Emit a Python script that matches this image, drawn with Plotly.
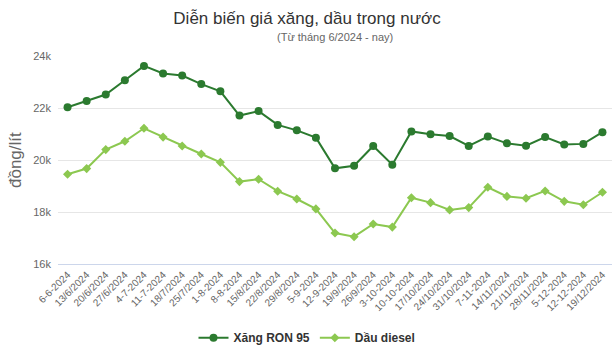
import plotly.graph_objects as go

# Weekly price-adjustment dates
dates = [
    "6-6-2024", "13/6/2024", "20/6/2024", "27/6/2024", "4-7-2024", "11-7-2024",
    "18/7/2024", "25/7/2024", "1-8-2024", "8-8-2024", "15/8/2024", "22/8/2024",
    "29/8/2024", "5-9-2024", "12-9-2024", "19/9/2024", "26/9/2024", "3-10-2024",
    "10-10-2024", "17/10/2024", "24/10/2024", "31/10/2024", "7-11-2024",
    "14/11/2024", "21/11/2024", "28/11/2024", "5-12-2024", "12-12-2024", "19/12/2024",
]

# Retail prices, VND per litre
ron95 = [
    22030, 22270, 22520, 23070, 23620, 23330, 23250, 22920, 22640, 21710,
    21880, 21350, 21140, 20860, 19680, 19780, 20540, 19820, 21100, 20990,
    20920, 20540, 20900, 20640, 20550, 20880, 20600, 20620, 21070,
]
diesel = [
    19450, 19670, 20400, 20720, 21220, 20880, 20540, 20230, 19910, 19170,
    19260, 18800, 18500, 18120, 17190, 17050, 17540, 17420, 18550, 18360,
    18080, 18170, 18950, 18600, 18530, 18810, 18410, 18280, 18760,
]

y_ticks = [16000, 18000, 20000, 22000, 24000]
y_tick_labels = ["16k", "18k", "20k", "22k", "24k"]

FONT = "Liberation Sans, Arial, sans-serif"
RON_COLOR = "#2b7a2f"
DIESEL_COLOR = "#8cc850"

fig = go.Figure()
fig.add_trace(go.Scatter(
    x=dates, y=ron95, name="Xăng RON 95", mode="lines+markers",
    line=dict(color=RON_COLOR, width=2),
    marker=dict(symbol="circle", size=8, color=RON_COLOR),
))
fig.add_trace(go.Scatter(
    x=dates, y=diesel, name="Dầu diesel", mode="lines+markers",
    line=dict(color=DIESEL_COLOR, width=2),
    marker=dict(symbol="diamond", size=7, color=DIESEL_COLOR),
))

fig.update_layout(
    width=614, height=350,
    margin=dict(l=58, r=2, t=56, b=86, autoexpand=False),
    paper_bgcolor="white", plot_bgcolor="white",
    font=dict(family=FONT, color="#666666", size=11),
    title=dict(
        text="Diễn biến giá xăng, dầu trong nước",
        x=0.5, xanchor="center", y=0.948, yanchor="middle",
        font=dict(family=FONT, size=17, color="#333333"),
    ),
    annotations=[
        dict(
            text="(Từ tháng 6/2024 - nay)", xref="paper", yref="paper",
            x=0.5, y=1.0, yshift=19, xanchor="center", yanchor="middle",
            showarrow=False, font=dict(family=FONT, size=11, color="#666666"),
        ),
        dict(
            text="đồng/lít", xref="paper", yref="paper",
            x=0, xshift=-43, y=0.5, xanchor="center", yanchor="middle",
            textangle=-90, showarrow=False,
            font=dict(family=FONT, size=17, color="#666666"),
        ),
    ],
    xaxis=dict(
        type="category", range=[-0.5, len(dates) - 0.5],
        tickangle=-45, showgrid=False, automargin=False,
        showline=True, linecolor="#ccd6eb", linewidth=1,
        ticks="", tickfont=dict(size=10, color="#666666"),
    ),
    yaxis=dict(
        range=[16000, 24000], tickvals=y_ticks, ticktext=y_tick_labels,
        showgrid=True, gridcolor="#e6e6e6", gridwidth=1, zeroline=False,
        automargin=False, ticklabelstandoff=6,
        tickfont=dict(size=11, color="#666666"),
    ),
    legend=dict(
        orientation="h", xref="container", x=0.5, xanchor="center",
        yref="container", y=0.035, yanchor="middle",
        font=dict(family=FONT, size=12, color="#333333", weight="bold"),
        itemwidth=30,
    ),
    showlegend=True,
)

fig.write_html("out.html")
